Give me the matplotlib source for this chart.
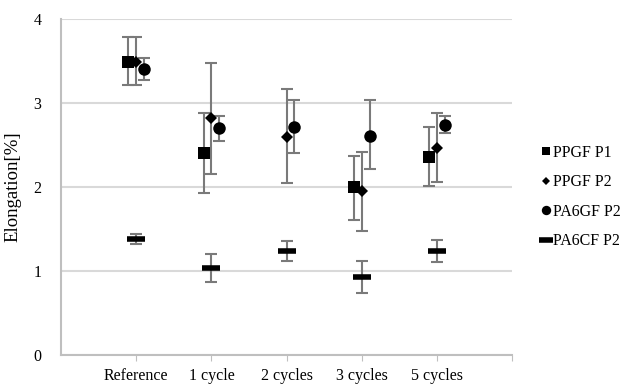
import numpy as np
import matplotlib.pyplot as plt

plt.rcParams['font.family'] = ['Liberation Serif', 'DejaVu Serif']

categories = ["Reference", "1 cycle", "2 cycles", "3 cycles", "5 cycles"]
series = ["PPGF P1", "PPGF P2", "PA6GF P2", "PA6CF P2"]

# mean values (nan = not measured)
ppgf_p1 = [3.49, 2.40, np.nan, 2.00, 2.36]
ppgf_p2 = [3.49, 2.82, 2.60, 1.95, 2.47]
pa6gf_p2 = [3.40, 2.70, 2.71, 2.61, 2.74]
pa6cf_p2 = [1.38, 1.03, 1.24, 0.93, 1.24]

# error bar lower / upper limits
ppgf_p1_lo = [3.21, 1.93, np.nan, 1.61, 2.01]
ppgf_p1_hi = [3.79, 2.88, np.nan, 2.37, 2.71]
ppgf_p2_lo = [3.21, 2.16, 2.05, 1.48, 2.06]
ppgf_p2_hi = [3.79, 3.48, 3.17, 2.42, 2.88]
pa6gf_p2_lo = [3.27, 2.55, 2.40, 2.21, 2.64]
pa6gf_p2_hi = [3.54, 2.85, 3.03, 3.04, 2.85]
pa6cf_p2_lo = [1.32, 0.87, 1.12, 0.74, 1.11]
pa6cf_p2_hi = [1.44, 1.20, 1.36, 1.12, 1.37]

means = [ppgf_p1, ppgf_p2, pa6gf_p2, pa6cf_p2]
lows = [ppgf_p1_lo, ppgf_p2_lo, pa6gf_p2_lo, pa6cf_p2_lo]
highs = [ppgf_p1_hi, ppgf_p2_hi, pa6gf_p2_hi, pa6cf_p2_hi]
offsets = [-0.105, 0.0, 0.105, 0.0]
markers = ["s", "D", "o", "_"]
msizes = [8, 6, 9, 13]
medges = [0, 0, 0, 4]

fig = plt.figure(figsize=(6.37, 3.84), dpi=100)
ax = fig.add_axes([0.0958, 0.0755, 0.7082, 0.875])

x = np.arange(1, len(categories) + 1)
for name, m, lo, hi, off, mk, ms, mew in zip(series, means, lows, highs,
                                              offsets, markers, msizes, medges):
    m = np.array(m)
    err = np.array([m - np.array(lo), np.array(hi) - m])
    ax.errorbar(x + off, m, yerr=err, fmt="none", ecolor="#7a7a7a",
                elinewidth=1.5, capsize=4, capthick=1.5, zorder=2)
    ax.plot(x + off, m, linestyle="none", marker=mk, markersize=ms,
            color="black", markeredgewidth=mew, label=name, zorder=3)

ax.set_xlim(0, 6)
ax.set_ylim(0, 4)
ax.set_xticks(list(x) + [6])
ax.set_xticklabels(categories + [""])
ax.set_yticks([0, 1, 2, 3, 4])
ax.set_ylabel("Elongation[%]", fontsize=13.5)
ax.yaxis.set_label_coords(-0.088, 0.5)
ax.tick_params(axis="both", labelsize=11.5, colors="black")
ax.tick_params(axis="y", length=0, pad=14)
ax.tick_params(axis="x", length=4, color="#bfbfbf", pad=5)

ax.grid(axis="y", color="#d9d9d9", linewidth=1.5)
ax.set_axisbelow(True)
for s in ["top", "right"]:
    ax.spines[s].set_visible(False)
for s in ["left", "bottom"]:
    ax.spines[s].set_color("#bfbfbf")
    ax.spines[s].set_linewidth(1.5)

ax.legend(loc="center left", bbox_to_anchor=(1.035, 0.47), frameon=False,
          fontsize=11.5, handlelength=0.5, handletextpad=0.15, labelspacing=0.85,
          markerscale=0.75)

fig.savefig("out.png", dpi=100)
